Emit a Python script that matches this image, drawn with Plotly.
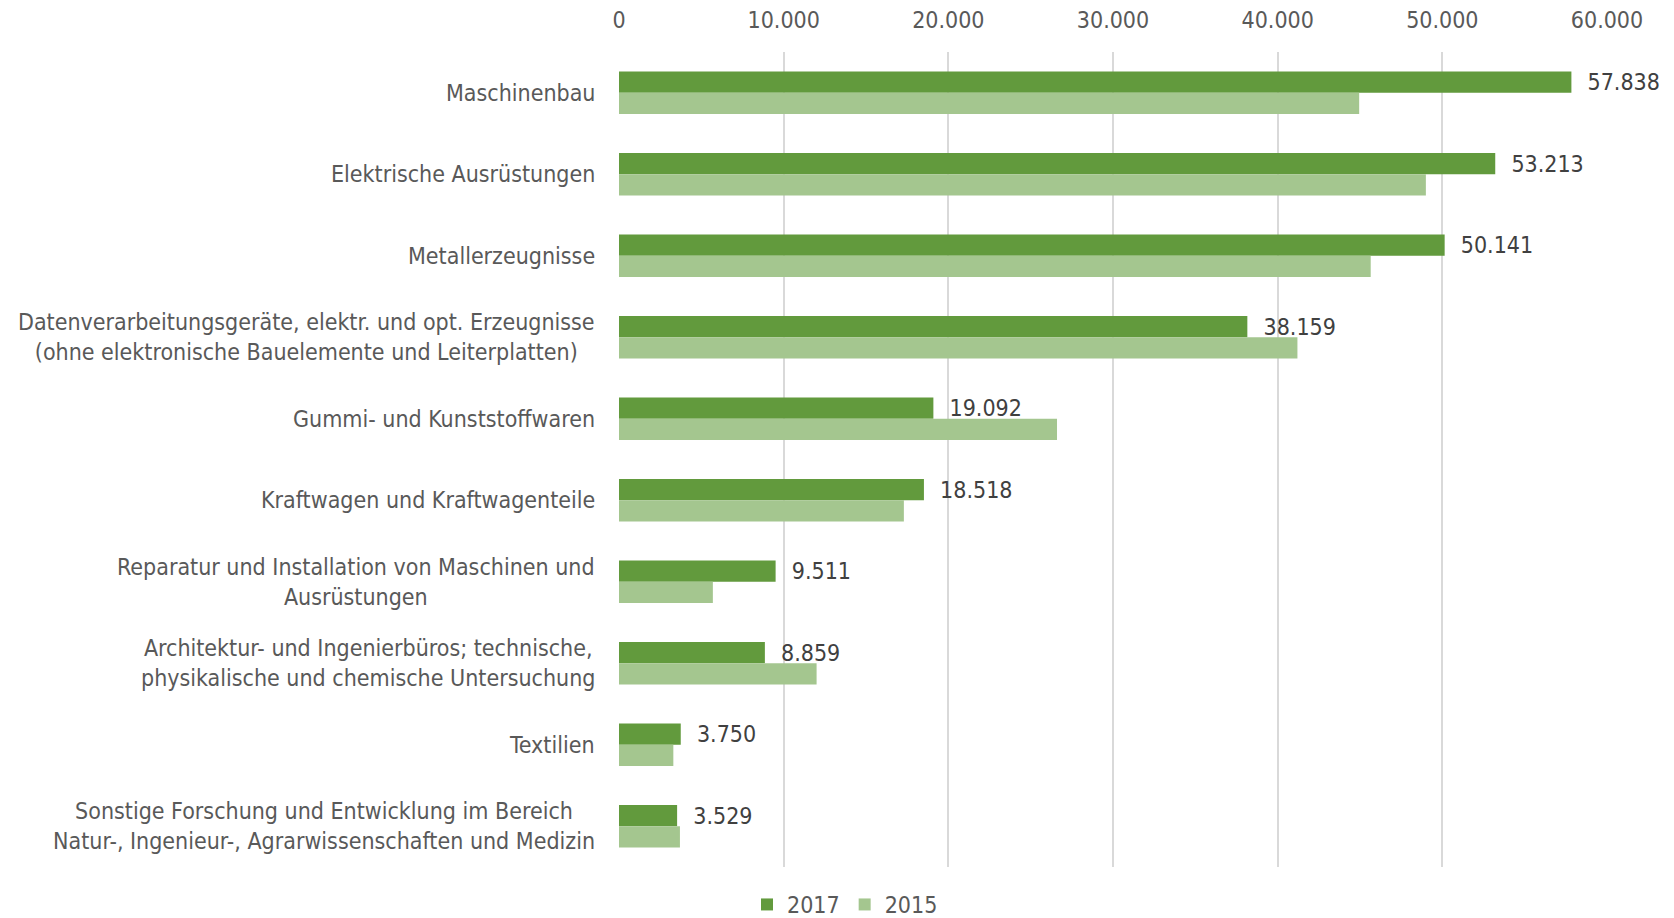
import plotly.graph_objects as go

categories = [
    "Maschinenbau",
    "Elektrische Ausrüstungen",
    "Metallerzeugnisse",
    "Datenverarbeitungsgeräte, elektr. und opt. Erzeugnisse<br>(ohne elektronische Bauelemente und Leiterplatten)",
    "Gummi- und Kunststoffwaren",
    "Kraftwagen und Kraftwagenteile",
    "Reparatur und Installation von Maschinen und<br>Ausrüstungen",
    "Architektur- und Ingenierbüros; technische,<br>physikalische und chemische Untersuchung",
    "Textilien",
    "Sonstige Forschung und Entwicklung im Bereich<br>Natur-, Ingenieur-, Agrarwissenschaften und Medizin",
]
values_2017 = [57838, 53213, 50141, 38159, 19092, 18518, 9511, 8859, 3750, 3529]
values_2015 = [44950, 49000, 45650, 41200, 26600, 17300, 5700, 12000, 3300, 3700]
tick_vals = [0, 10000, 20000, 30000, 40000, 50000, 60000]
tick_text = ["0", "10.000", "20.000", "30.000", "40.000", "50.000", "60.000"]

cat_ids = list(range(len(categories)))
FONT = "DejaVu Sans Condensed, DejaVu Sans"
FS = 23

def fmt(v):
    return f"{v:,}".replace(",", ".")

fig = go.Figure()
fig.add_trace(go.Bar(
    name="2017", y=cat_ids, x=values_2017, orientation="h",
    marker=dict(color="#629A3D", line=dict(width=0)),
    text=["  " + fmt(v) for v in values_2017], textposition="outside",
    constraintext="none",
    textfont=dict(family=FONT, size=FS, color="#404040"),
    cliponaxis=False,
))
fig.add_trace(go.Bar(
    name="2015", y=cat_ids, x=values_2015, orientation="h",
    marker=dict(color="#A4C68F", line=dict(width=0)),
    cliponaxis=False,
))

annotations = []
for i, c in enumerate(categories):
    annotations.append(dict(
        x=0, xref="paper", y=i, yref="y", text=c, showarrow=False,
        xanchor="right", yanchor="middle", align="center", xshift=-22,
        font=dict(family=FONT, size=FS, color="#595959"),
    ))

fig.update_layout(
    width=1674, height=918,
    paper_bgcolor="white", plot_bgcolor="white",
    margin=dict(l=611, r=75, t=44, b=59, autoexpand=False),
    barmode="group", bargap=0.48, bargroupgap=0,
    font=dict(family=FONT, size=FS, color="#595959"),
    xaxis=dict(
        side="top", range=[0, 60000], tickvals=tick_vals, ticktext=tick_text,
        showgrid=True, gridcolor="#D9D9D9", gridwidth=1.5, zeroline=False,
        showline=False, ticks="", ticklabelstandoff=18, automargin=False,
        tickfont=dict(family=FONT, size=FS, color="#595959"),
    ),
    yaxis=dict(
        autorange="reversed", tickvals=cat_ids, showticklabels=False,
        showgrid=False, zeroline=False, showline=False, ticks="",
        automargin=False,
    ),
    legend=dict(
        orientation="h", x=0.5, xref="container", xanchor="center",
        y=0.0, yref="container", yanchor="bottom",
        font=dict(family=FONT, size=FS, color="#595959"),
        traceorder="normal", itemwidth=30,
    ),
    annotations=annotations,
    showlegend=True,
)

fig.write_html("out.html")
